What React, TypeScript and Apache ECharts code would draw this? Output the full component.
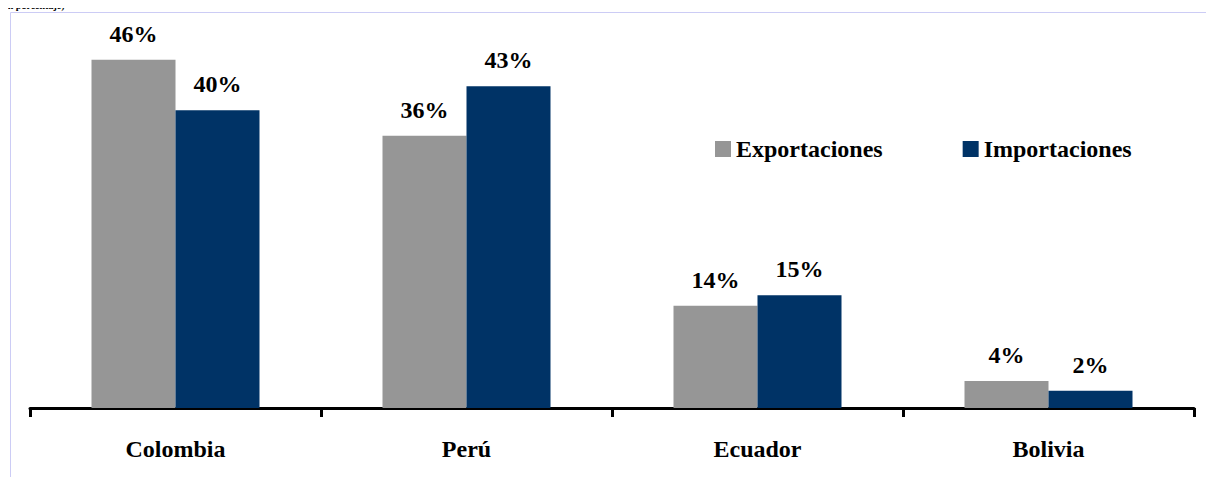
import React, { useEffect, useRef } from "react";
import * as echarts from "echarts";

const categories = ["Colombia", "Perú", "Ecuador", "Bolivia"];
const seriesNames = ["Exportaciones", "Importaciones"];
const exportaciones = [46.3, 36.2, 13.6, 3.6];
const importaciones = [39.6, 42.8, 15.0, 2.3];
const colors = ["#969696", "#003366"];
const subtitle = "(en porcentaje)";

const FONT = "Liberation Serif";

export default function App() {
  const ref = useRef<HTMLDivElement>(null);
  useEffect(() => {
    if (!ref.current) return;
    const chart = echarts.init(ref.current, null, { renderer: "svg" });
    const label = {
      show: true,
      position: "top",
      distance: 14,
      fontFamily: FONT,
      fontWeight: "bold",
      fontSize: 24,
      color: "#000",
      formatter: (p: any) => Math.round(p.value) + "%",
    };
    chart.setOption({
      animation: false,
      backgroundColor: "#fff",
      graphic: [
        {
          type: "rect",
          shape: { x: 10.5, y: 12.5, width: 1300, height: 600 },
          style: { fill: "none", stroke: "#ccccf5", lineWidth: 1 },
          silent: true,
        },
        {
          type: "text",
          left: 0,
          top: 0,
          style: { text: subtitle, fontFamily: FONT, fontWeight: "bold", fontSize: 10, fill: "#000" },
        },
      ],
      legend: {
        data: seriesNames,
        left: 710,
        top: 132,
        itemWidth: 16,
        itemHeight: 16,
        itemGap: 80,
        icon: "rect",
        textStyle: { fontFamily: FONT, fontWeight: "bold", fontSize: 24, color: "#000" },
      },
      grid: { left: 30, right: 20, top: 32, bottom: 77, containLabel: false },
      xAxis: {
        type: "category",
        data: categories,
        axisLine: { lineStyle: { color: "#000", width: 3 } },
        axisTick: { show: true, length: 9, lineStyle: { color: "#000", width: 3 } },
        axisLabel: {
          margin: 29,
          fontFamily: FONT,
          fontWeight: "bold",
          fontSize: 24,
          color: "#000",
        },
      },
      yAxis: {
        type: "value",
        min: 0,
        max: 50,
        show: false,
        splitLine: { show: false },
      },
      series: [
        {
          name: seriesNames[0],
          type: "bar",
          data: exportaciones,
          barWidth: 84,
          barGap: "0%",
          itemStyle: { color: colors[0] },
          label,
        },
        {
          name: seriesNames[1],
          type: "bar",
          data: importaciones,
          barWidth: 84,
          barGap: "0%",
          itemStyle: { color: colors[1] },
          label,
        },
      ],
    });
    return () => chart.dispose();
  }, []);
  return <div ref={ref} style={{ width: 1214, height: 485, margin: -8 }} />;
}
